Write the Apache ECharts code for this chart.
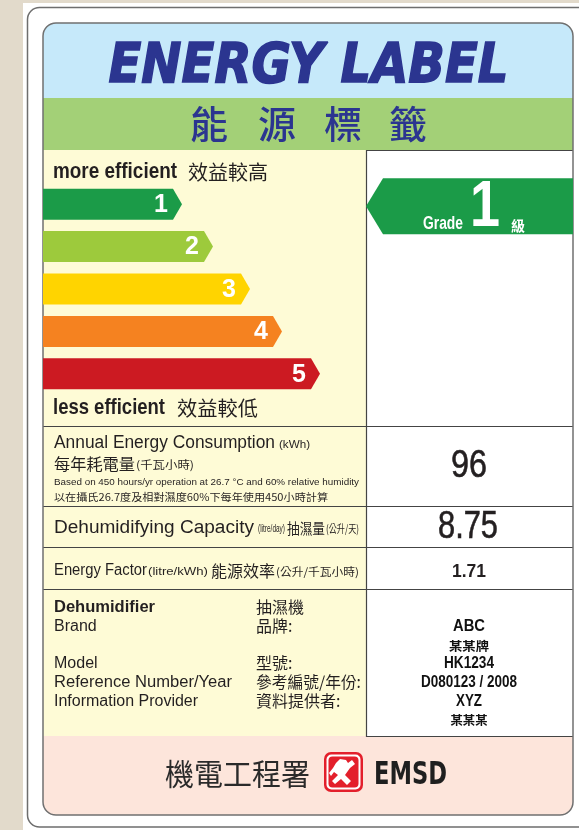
<!DOCTYPE html>
<html><head><meta charset="utf-8">
<script src="https://cdn.jsdelivr.net/npm/echarts@6/dist/echarts.min.js"></script>
<style>html,body{margin:0;padding:0;background:#e2dacb;}#c{width:579px;height:830px;}</style>
</head><body><div id="c"></div>
<script>
// ---------- data ----------
const grades = ['1', '2', '3', '4', '5'];
const gradeBandLength = [139, 170, 207, 239, 277];
const ratedGrade = '1';
const annualConsumption = '96';
const dehumidifyingCapacity = '8.75';
const energyFactor = '1.71';
const infoLabelsEn = ['Brand', 'Model', 'Reference Number/Year', 'Information Provider'];
const infoLabelsZh = ['品牌:', '型號:', '參考編號/年份:', '資料提供者:'];
const infoValues = ['ABC', '某某牌', 'HK1234', 'D080123 / 2008', 'XYZ', '某某某'];

// ---------- styles ----------
const gradeColors = ['#1b9b48', '#9dca3c', '#ffd400', '#f58220', '#cc1a22'];
const NAVY = '#2b3590', INK = '#231f20', LINE = '#444';
const SANS = "'Liberation Sans', Arial, sans-serif";
const CJK = "'Noto Sans CJK TC', 'Noto Sans CJK SC', sans-serif";
const DV = "'DejaVu Sans', sans-serif";

const mctx = document.createElement('canvas').getContext('2d');
function fontStr(o, size) { return (o.style || 'normal') + ' ' + (o.weight || 'normal') + ' ' + size + 'px ' + (o.family || SANS); }
function T(text, x, y, size, o) {
  o = o || {};
  const font = fontStr(o, size);
  let sx = 1;
  if (o.w) { mctx.font = font; sx = o.w / mctx.measureText(text).width; }
  const align = o.align || 'left';
  const st = { text: text, x: 0, y: 0, font: font, fill: o.fill || INK,
      align: align, verticalAlign: 'middle', textAlign: align, textVerticalAlign: 'middle' };
  if (o.stroke) { st.stroke = o.stroke; st.lineWidth = o.slw || 1; }
  return { type: 'text', x: x, y: y, scaleX: sx, scaleY: 1, originX: 0, originY: 0, z: o.z || 5, style: st };
}
function R(x, y, w, h, fill, o) {
  o = o || {};
  return { type: 'rect', z: o.z || 1, shape: { x: x, y: y, width: w, height: h, r: o.r || 0 },
    style: { fill: fill, stroke: o.stroke || null, lineWidth: o.lw || 0 } };
}
function L(x1, y1, x2, y2, o) {
  o = o || {};
  return { type: 'line', z: o.z || 3, shape: { x1: x1, y1: y1, x2: x2, y2: y2 },
    style: { stroke: o.stroke || LINE, lineWidth: o.lw || 1.2 } };
}

const g = [];
// page & card
g.push(R(0, 0, 579, 830, '#e2dacb', { z: 0 }));
g.push(R(23, 3, 600, 840, '#ffffff', { z: 0 }));
g.push(R(27.5, 7.5, 600, 819.5, '#ffffff', { r: 12, stroke: '#6e6e6e', lw: 1.5, z: 0 }));
// label panels
g.push(R(43, 23, 530, 75, '#c6e9fa', { r: [13, 13, 0, 0] }));
g.push(R(43, 98, 530, 52, '#a3d077'));
g.push(R(43, 150, 323, 586, '#fefbd6'));
g.push(R(366, 150, 207, 586, '#ffffff'));
g.push(R(43, 736, 530, 79, '#fde5db', { r: [0, 0, 13, 13] }));
// grid lines
g.push(L(366.5, 150, 366.5, 737));
g.push(L(366, 150.5, 573, 150.5));
[426.5, 506.5, 547.5, 589.5].forEach(function (y) { g.push(L(43, y, 573, y)); });
g.push(L(366, 736.5, 573, 736.5));
// label outline
g.push({ type: 'rect', z: 4, shape: { x: 43, y: 23, width: 530, height: 792, r: 13 },
  style: { fill: null, stroke: '#707070', lineWidth: 1.5 } });

// header texts
g.push(T('ENERGY LABEL', 308.5, 67, 56, { weight: 'bold', style: 'italic', family: DV, w: 400, align: 'center', fill: NAVY, stroke: NAVY, slw: 1.6 }));
['能', '源', '標', '籤'].forEach(function (ch, i) {
  g.push(T(ch, [209, 277, 343, 408][i], 124, 38, { family: CJK, weight: 500, align: 'center', fill: NAVY }));
});
// efficiency captions
g.push(T('more efficient', 53, 172, 22, { weight: 'bold', w: 124 }));
g.push(T('效益較高', 188, 172, 20, { family: CJK, w: 80 }));
g.push(T('less efficient', 53, 408, 22, { weight: 'bold', w: 112 }));
g.push(T('效益較低', 177, 408, 20, { family: CJK, w: 81 }));

// row: annual energy consumption
g.push(T('Annual Energy Consumption', 54, 443, 18, { w: 221 }));
g.push(T('(kWh)', 279, 445, 10, { w: 31 }));
g.push(T('每年耗電量', 54, 464, 16, { family: CJK, w: 81 }));
g.push(T('(千瓦小時)', 136, 465, 11, { family: CJK, w: 58 }));
g.push(T('Based on 450 hours/yr operation at 26.7 °C and 60% relative humidity', 54, 483, 9, { w: 305 }));
g.push(T('以在攝氏26.7度及相對濕度60%下每年使用450小時計算', 54, 497, 10, { family: CJK, w: 274 }));
g.push(T(annualConsumption, 469, 467, 38, { w: 36, align: 'center', stroke: INK, slw: 0.6 }));

// row: dehumidifying capacity
g.push(T('Dehumidifying Capacity', 54, 528, 18, { w: 200 }));
g.push(T('(litre/day)', 258, 529, 11, { w: 27 }));
g.push(T('抽濕量', 287, 528, 15, { family: CJK, w: 38 }));
g.push(T('(公升/天)', 326, 529, 11, { family: CJK, w: 33 }));
g.push(T(dehumidifyingCapacity, 468, 528, 38, { w: 60, align: 'center', stroke: INK, slw: 0.6 }));

// row: energy factor
g.push(T('Energy Factor', 54, 571, 16, { w: 93 }));
g.push(T('(litre/kWh)', 148, 572, 10, { w: 60 }));
g.push(T('能源效率', 211, 571, 16, { family: CJK, w: 64 }));
g.push(T('(公升/千瓦小時)', 276, 572, 11, { family: CJK, w: 83 }));
g.push(T(energyFactor, 469, 572, 18, { weight: 'bold', w: 34, align: 'center' }));

// row: product info
g.push(T('Dehumidifier', 54, 608, 16, { weight: 'bold', w: 101 }));
g.push(T('抽濕機', 256, 607, 16, { family: CJK }));
const enY = [627, 664, 683, 702];
infoLabelsEn.forEach(function (t, i) { g.push(T(t, 54, enY[i], 16, i === 2 ? { w: 178 } : {})); });
infoLabelsZh.forEach(function (t, i) { g.push(T(t, 256, enY[i] - 1, 16, i === 2 ? { family: CJK, w: 105 } : { family: CJK })); });
const valY = [627, 646, 664, 683, 702, 720];
const valW = [32, 40, 50, 96, 26, 37];
infoValues.forEach(function (t, i) {
  const zh = /[\u4e00-\u9fff]/.test(t);
  g.push(T(t, 469, valY[i], zh ? 12 : 16, { weight: 'bold', family: zh ? CJK : SANS, w: valW[i], align: 'center', fill: '#111' }));
});

// footer
g.push(T('機電工程署', 165, 774, 30, { family: CJK, w: 145, fill: '#2a2a2a' }));
g.push(T('EMSD', 374, 775.5, 32, { weight: 'bold', family: DV, w: 73, fill: '#1f1f1f' }));
g.push(R(324, 752, 39, 40, '#e31f2b', { r: 7, z: 5 }));
g.push(R(326.5, 754.5, 34, 35, '#ffffff', { r: 5, z: 5 }));
g.push(R(328.5, 756.5, 30, 31, '#e31f2b', { r: 4, z: 5 }));
g.push({ type: 'polygon', z: 6, shape: { points: [[336, 763], [340, 759], [346, 760], [348, 763], [352, 760], [355, 764], [350, 768], [345, 775], [351, 781], [347, 785], [341, 779], [335, 784], [332, 781], [338, 775], [334, 772], [331, 776], [329, 773], [333, 768]] },
  style: { fill: '#ffffff' } });

// ---------- chart ----------
const chart = echarts.init(document.getElementById('c'), null, { width: 579, height: 830 });
chart.setOption({
  animation: false,
  graphic: { elements: g },
  grid: { left: 43, top: 183, width: 323, height: 212 },
  xAxis: { type: 'value', min: 0, max: 323, show: false },
  yAxis: { type: 'category', data: grades, inverse: true, show: false },
  series: [
    {
      type: 'custom', z: 10, clip: false,
      data: gradeBandLength.map(function (v, i) { return [v, i]; }),
      renderItem: function (params, api) {
        const i = api.value(1);
        const base = api.coord([0, i]);
        const tip = api.coord([api.value(0), i]);
        const h = 31, yc = base[1], y0 = yc - h / 2, y1 = yc + h / 2, d = 9;
        return { type: 'group', children: [
          { type: 'polygon', shape: { points: [[base[0], y0], [tip[0] - d, y0], [tip[0], yc], [tip[0] - d, y1], [base[0], y1]] },
            style: { fill: gradeColors[i] } },
          { type: 'text', style: { text: grades[i], x: tip[0] - 14, y: yc + 1, font: 'bold 25px ' + SANS, fill: '#fff',
              align: 'right', verticalAlign: 'middle', textAlign: 'right', textVerticalAlign: 'middle' } }
        ] };
      }
    },
    {
      type: 'custom', z: 10, clip: false,
      data: [[0, grades.indexOf(ratedGrade)]],
      renderItem: function (params, api) {
        const c = api.coord([0, api.value(1)]);
        const yc = c[1] + 2, x0 = 366, x1 = 573, h = 56;
        function tx(t, x, y, size, w, fam) {
          const f = 'bold ' + size + 'px ' + (fam || SANS);
          mctx.font = f;
          const s = w / mctx.measureText(t).width;
          return { type: 'text', x: x, y: y, scaleX: s, style: { text: t, x: 0, y: 0, font: f, fill: '#fff',
            align: 'center', verticalAlign: 'middle', textAlign: 'center', textVerticalAlign: 'middle' } };
        }
        return { type: 'group', children: [
          { type: 'polygon', shape: { points: [[x0, yc], [x0 + 17, yc - h / 2], [x1, yc - h / 2], [x1, yc + h / 2], [x0 + 17, yc + h / 2]] },
            style: { fill: gradeColors[api.value(1)] } },
          tx('Grade', 443, yc + 18, 19, 40),
          tx(ratedGrade, 485, yc + 2, 64, 30),
          tx('級', 518, yc + 19, 14, 14, CJK)
        ] };
      }
    }
  ]
});
</script>
</body></html>
